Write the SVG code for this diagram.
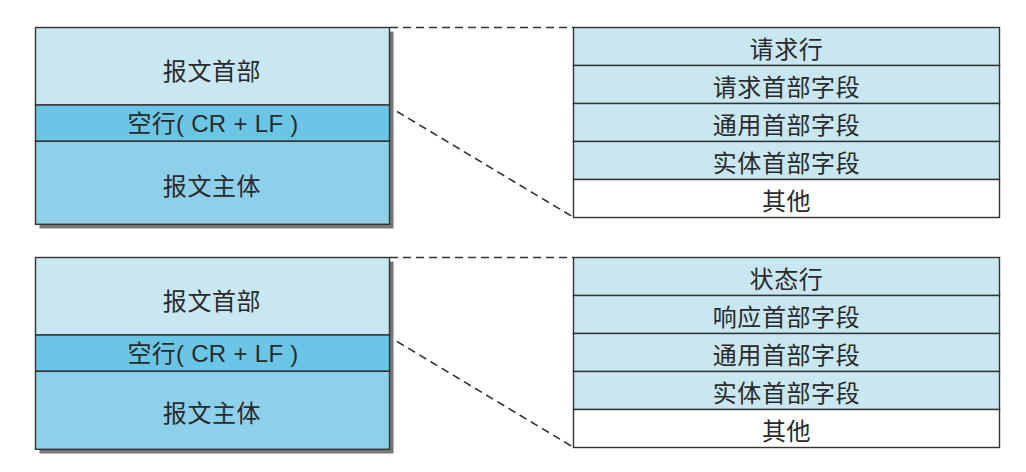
<svg xmlns="http://www.w3.org/2000/svg" width="1026" height="472" viewBox="0 0 1026 472">
  <style>
    .t { font-family: "Noto Sans CJK SC", "Liberation Sans", sans-serif; font-size: 24px; letter-spacing: 0.6px; fill: #2a2a2a; text-anchor: middle; dominant-baseline: central; }
    .mix { font-family: "Liberation Sans", "Noto Sans CJK SC", sans-serif; letter-spacing: 0.3px; }
    .cell { stroke: #333; stroke-width: 1.4; }
    .head { fill: #c8e7f1; }
    .blank { fill: #6bc6e5; }
    .body { fill: #8ed0ea; }
    .other { fill: #ffffff; }
    .shadow { fill: #777; }
    .dash { fill: none; stroke: #333; stroke-width: 1.6; stroke-dasharray: 8 5; }
  </style>
  <rect width="1026" height="472" fill="#fff"/>

  <!-- request message -->
  <g id="request-message">
    <rect class="shadow" x="39.5" y="31.5" width="354" height="197"/>
    <rect class="cell head" x="35.5" y="27.5" width="354" height="77.5"/>
    <rect class="cell blank" x="35.5" y="105" width="354" height="36.3"/>
    <rect class="cell body" x="35.5" y="141.3" width="354" height="83"/>
    <text class="t" x="212" y="69.5">报文首部</text>
    <text class="t mix" x="213" y="123.5">空行( CR + LF )</text>
    <text class="t" x="212" y="184.5">报文主体</text>
  </g>

  <g id="request-header">
    <rect class="cell head" x="573.5" y="27.5" width="426" height="38"/>
    <rect class="cell head" x="573.5" y="65.5" width="426" height="38"/>
    <rect class="cell head" x="573.5" y="103.5" width="426" height="38"/>
    <rect class="cell head" x="573.5" y="141.5" width="426" height="38"/>
    <rect class="cell other" x="573.5" y="179.5" width="426" height="38"/>
    <text class="t" x="786.5" y="47.5">请求行</text>
    <text class="t" x="786.5" y="85.5">请求首部字段</text>
    <text class="t" x="786.5" y="123.5">通用首部字段</text>
    <text class="t" x="786.5" y="161.5">实体首部字段</text>
    <text class="t" x="786.5" y="199.5">其他</text>
  </g>

  <!-- response message -->
  <g id="response-message">
    <rect class="shadow" x="39.5" y="261.5" width="354" height="192"/>
    <rect class="cell head" x="35.5" y="257.5" width="354" height="77.5"/>
    <rect class="cell blank" x="35.5" y="335" width="354" height="36.3"/>
    <rect class="cell body" x="35.5" y="371.3" width="354" height="78"/>
    <text class="t" x="212" y="299.5">报文首部</text>
    <text class="t mix" x="213" y="353.5">空行( CR + LF )</text>
    <text class="t" x="212" y="411.5">报文主体</text>
  </g>

  <g id="response-header">
    <rect class="cell head" x="573.5" y="257.5" width="426" height="38"/>
    <rect class="cell head" x="573.5" y="295.5" width="426" height="38"/>
    <rect class="cell head" x="573.5" y="333.5" width="426" height="38"/>
    <rect class="cell head" x="573.5" y="371.5" width="426" height="38"/>
    <rect class="cell other" x="573.5" y="409.5" width="426" height="38"/>
    <text class="t" x="786.5" y="277.5">状态行</text>
    <text class="t" x="786.5" y="315.5">响应首部字段</text>
    <text class="t" x="786.5" y="353.5">通用首部字段</text>
    <text class="t" x="786.5" y="391.5">实体首部字段</text>
    <text class="t" x="786.5" y="429.5">其他</text>
  </g>

  <!-- expansion guides from the message header to its fields -->
  <g id="connectors">
    <line class="dash" x1="390" y1="27.5" x2="573" y2="27.5"/>
    <line class="dash" x1="397" y1="111.5" x2="573" y2="217"/>
    <line class="dash" x1="390" y1="257.5" x2="573" y2="257.5"/>
    <line class="dash" x1="397" y1="341.5" x2="573" y2="447"/>
  </g>
</svg>
